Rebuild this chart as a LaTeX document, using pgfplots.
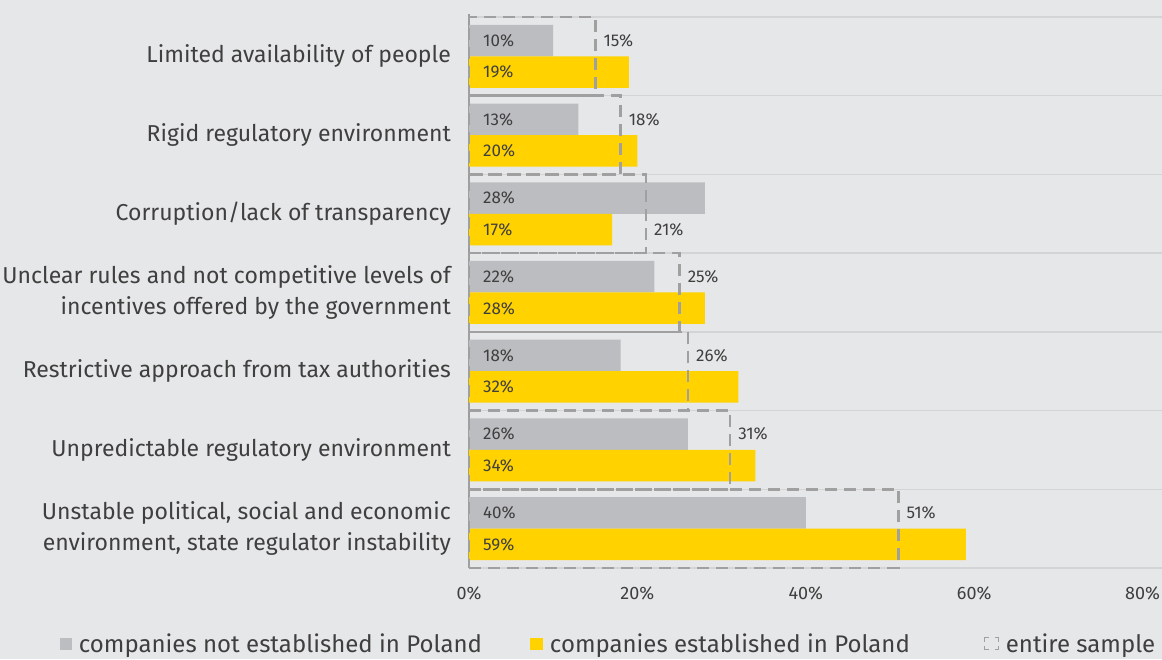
\documentclass[border=0pt]{standalone}
\usepackage{pgfplots}
\pgfplotsset{compat=1.18}
\usepackage{pgfplotstable}
\usepackage{fontspec}
\setmainfont{Fira Sans}
\definecolor{bg}{HTML}{E6E7E8}
\definecolor{barg}{HTML}{BCBDC0}
\definecolor{bary}{HTML}{FFD200}
\definecolor{txt}{HTML}{3F3F3F}
\definecolor{dashc}{HTML}{A0A0A0}
\definecolor{sepc}{HTML}{D3D4D6}
\definecolor{axc}{HTML}{9C9C9C}
\newcommand\lblfont{\fontsize{23}{31.5}\selectfont}
\newcommand\valfont{\fontsize{17}{20}\selectfont}
\newcommand\tickfont{\fontsize{18}{21}\selectfont}
\newcommand\legfont{\fontsize{24}{28}\selectfont}

\pgfplotstableread{
y notest est entire lsh
7 10 19 15 15.75
6 13 20 18 15.75
5 28 17 21 -15.75
4 22 28 25 15.75
3 18 32 26 15.75
2 26 34 31 15.75
1 40 59 51 15.75
}\data

\begin{document}
\begin{tikzpicture}
\fill[bg] (0,0) rectangle (1162pt,659pt);
\begin{axis}[
  at={(469pt,91pt)}, anchor=south west,
  scale only axis, width=693pt, height=551pt,
  /pgf/number format/assume math mode=true,
  xbar, bar width=31.5pt,
  xmin=0, xmax=82.3, ymin=0.5, ymax=7.5,
  clip=false,
  axis x line*=bottom, axis y line*=left,
  x axis line style={draw=none},
  y axis line style={draw=axc, line width=2.5pt, shorten >=-3pt},
  major tick length=0pt, minor tick length=0pt,
  xtick={0,20,40,60,80},
  xticklabels={0\%,20\%,40\%,60\%,80\%},
  xticklabel style={font=\tickfont, text=txt, inner sep=0pt, yshift=-18pt},
  ytick={1,2,3,4,5,6,7},
  yticklabels={{Unstable political, social and economic\\environment, state regulator instability},
    {Unpredictable regulatory environment},
    {Restrictive approach from tax authorities},
    {Unclear rules and not competitive levels of\\incentives offered by the government},
    {Corruption/lack of transparency},
    {Rigid regulatory environment},
    {Limited availability of people}},
  yticklabel style={font=\lblfont, text=txt, align=right, anchor=east, inner sep=0pt, xshift=-18pt},
  minor ytick={0.5,1.5,2.5,3.5,4.5,5.5,6.5,7.5},
  yminorgrids=true, minor grid style={draw=sepc, line width=1.5pt},
  legend columns=3,
  legend cell align=left,
  legend style={at={(-0.5905,-0.138)}, anchor=west, draw=none, fill=none,
    font=\legfont, text=txt, inner sep=0pt, nodes={inner sep=0pt},
    /tikz/every odd column/.append style={column sep=6.5pt},
    /tikz/column 2/.append style={column sep=48pt},
    /tikz/column 4/.append style={column sep=74pt}},
]
\addplot[fill=barg, draw=none, bar shift=15.75pt,
  legend image code/.code={\fill[barg] (0pt,-6pt) rectangle (12.5pt,6.5pt);}]
  table[x=notest, y=y]{\data};
\addlegendentry{companies not established in Poland}
\addplot[fill=bary, draw=none, bar shift=-15.75pt,
  legend image code/.code={\fill[bary] (0pt,-6pt) rectangle (13.5pt,6.5pt);}]
  table[x=est, y=y]{\data};
\addlegendentry{companies established in Poland}
\addplot[fill=none, draw=dashc, line width=2.5pt, dash pattern=on 12pt off 7pt,
  bar width=78.7pt, bar shift=0pt,
  point meta=x, visualization depends on={\thisrow{lsh} \as \lsh},
  nodes near coords={\pgfmathprintnumber{\pgfplotspointmeta}\%},
  every node near coord/.append style={anchor=west, font=\valfont, text=txt, inner sep=0pt, xshift=7pt, yshift=\lsh pt, solid},
  legend image code/.code={
    \draw[dashc, line width=1.5pt, solid] (0pt,-1.5pt) -- (0pt,-5.5pt) -- (4pt,-5.5pt);
    \draw[dashc, line width=1.5pt, solid] (0pt,2.5pt) -- (0pt,6.5pt) -- (4pt,6.5pt);
    \draw[dashc, line width=1.5pt, solid] (14pt,-1.5pt) -- (14pt,-5.5pt) -- (10pt,-5.5pt);
    \draw[dashc, line width=1.5pt, solid] (14pt,2.5pt) -- (14pt,6.5pt) -- (10pt,6.5pt);}]
  table[x=entire, y=y]{\data};
\addlegendentry{entire sample}
\addplot[forget plot, draw=none, fill=none, bar shift=15.75pt,
  point meta=explicit, nodes near coords={\pgfmathprintnumber{\pgfplotspointmeta}\%},
  every node near coord/.append style={anchor=west, font=\valfont, text=txt, inner sep=0pt, xshift=14pt}]
  table[x expr=0, y=y, meta=notest]{\data};
\addplot[forget plot, draw=none, fill=none, bar shift=-15.75pt,
  point meta=explicit, nodes near coords={\pgfmathprintnumber{\pgfplotspointmeta}\%},
  every node near coord/.append style={anchor=west, font=\valfont, text=txt, inner sep=0pt, xshift=14pt}]
  table[x expr=0, y=y, meta=est]{\data};
\end{axis}
\pgfresetboundingbox
\useasboundingbox (0,0) rectangle (1162pt,659pt);
\end{tikzpicture}
\end{document}
